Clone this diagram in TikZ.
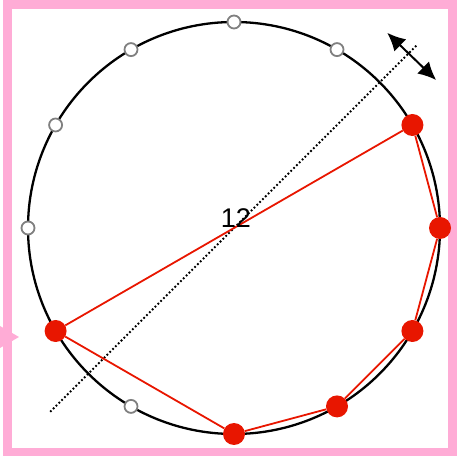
\documentclass[tikz,border=0pt]{standalone}
\usepackage{fontspec}
\newfontfamily\countfont{Liberation Sans}
\usetikzlibrary{arrows.meta}
\definecolor{framepink}{RGB}{255,172,214}
\definecolor{dotred}{RGB}{232,22,0}

\begin{document}
\begin{tikzpicture}[x=1pt, y=1pt,
    emptydot/.style={circle, draw=gray, fill=white, line width=1.8pt, minimum size=13pt, inner sep=0pt},
    fulldot/.style={circle, fill=dotred, minimum size=22pt, inner sep=0pt},
    chord/.style={draw=dotred, line width=1.8pt}]
    % Define the size of the frame
    \useasboundingbox (0,0) rectangle (457,457);
    \draw[framepink, line width=8.5pt] (7.5,5) rectangle (452.5,452.5);

    % Small marker on the left edge of the frame
    \fill[framepink] (0,131) -- (19,120) -- (0,109) -- cycle;

    % Center of the circle
    \coordinate (center) at (234,229);

    % Create the circle
    \draw[line width=2.3pt] (center) circle (206);

    % Dotted axis through the center
    \coordinate (axisLow) at ([shift={(225:260)}]center);
    \coordinate (axisHigh) at ([shift={(45:258)}]center);
    \draw[line width=1.8pt, dash pattern=on 1.8pt off 2.2pt] (axisLow) -- (axisHigh);

    % Double arrow across the upper end of the axis
    \coordinate (flip) at ([shift={(44:247)}]center);
    \coordinate (flipA) at ([shift={(136:34)}]flip);
    \coordinate (flipB) at ([shift={(-44:34)}]flip);
    \draw[line width=2pt, {Latex[length=18pt,width=17pt]}-{Latex[length=18pt,width=17pt]}] (flipA) -- (flipB);

    % Points on the circle, one every 30 degrees
    \foreach \i in {2,3,4,5,6,8}
      \node[emptydot] (p\i) at ([shift={(\i*30:206)}]center) {};
    \foreach \i in {0,1,7,9,10,11}
      \node[fulldot] (p\i) at ([shift={(\i*30:206)}]center) {};

    % Red polygon through the filled points
    \draw[chord] (p7) -- (p1) -- (p0) -- (p11) -- (p10) -- (p9) -- (p7);

    % Text
    \node[font=\countfont\fontsize{27}{27}\selectfont] (count) at ([shift={(2,10)}]center) {12};
  \end{tikzpicture}
\end{document}
